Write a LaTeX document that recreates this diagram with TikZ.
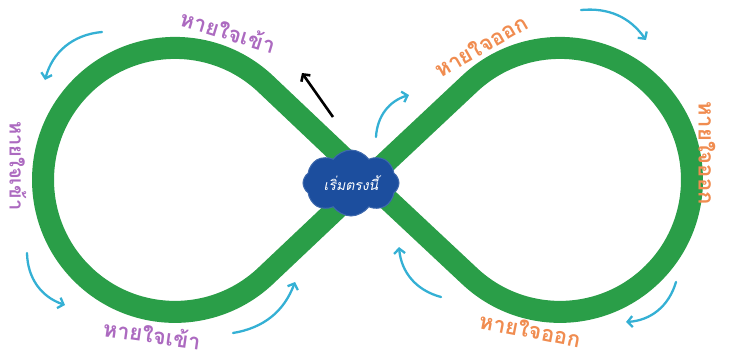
\documentclass[tikz,border=0pt]{standalone}
\usepackage{fontspec}
\newfontfamily\thaifont[Script=Thai]{Loma}
\usetikzlibrary{arrows.meta,shapes.symbols}
\definecolor{loopgreen}{RGB}{42,158,72}
\definecolor{arrowcyan}{RGB}{52,176,212}
\definecolor{inpurple}{RGB}{172,106,192}
\definecolor{outorange}{RGB}{240,140,80}
\definecolor{cloudblue}{RGB}{28,78,158}
\begin{document}
\begin{tikzpicture}[x=1pt,y=1pt,
  loopline/.style={draw=loopgreen, line width=22pt, line join=round},
  flowarrow/.style={draw=arrowcyan, line width=2.3pt, line cap=round, -{Straight Barb[length=5pt,width=11pt]}},
  breathin/.style={text=inpurple, font=\thaifont\bfseries\fontsize{22}{22}\selectfont, inner sep=0pt},
  breathout/.style={text=outorange, font=\thaifont\bfseries\fontsize{22}{22}\selectfont, inner sep=0pt},
  startcloud/.style={cloud, cloud puffs=8, cloud puff arc=110, aspect=1.45, fill=cloudblue, draw=cloudblue!85!white, line width=1pt, minimum width=96pt, minimum height=66pt, inner sep=0pt, text=white, font=\thaifont\itshape\fontsize{14}{14}\selectfont}]
\useasboundingbox (0,0) rectangle (732,-359);
\coordinate (X) at (367,-180);
\coordinate (T1) at (265.7,-84);
\coordinate (T3) at (469.3,-84);
\draw[loopline] (X) -- (T1) arc[start angle=46.6,end angle=313.4,radius=132] -- (X) -- (T3) arc[start angle=133.4,end angle=-133.4,radius=132] -- cycle;
\node[startcloud] (start) at (351,-183) {เริ่มตรงนี้};
% cyan flow arrows
\coordinate (a1s) at (102,-32); \coordinate (a1e) at (45,-80);
\coordinate (a2s) at (581,-10); \coordinate (a2e) at (646,-40);
\coordinate (a3s) at (376,-137); \coordinate (a3e) at (409,-95);
\coordinate (a4s) at (27,-253); \coordinate (a4e) at (65,-305);
\coordinate (a5s) at (233,-333); \coordinate (a5e) at (295,-282);
\coordinate (a6s) at (441,-297); \coordinate (a6e) at (399,-247);
\coordinate (a7s) at (676,-282); \coordinate (a7e) at (626,-322);
\draw[flowarrow] (a1s) to[bend right=35] (a1e);
\draw[flowarrow] (a2s) to[bend left=30] (a2e);
\draw[flowarrow] (a3s) to[bend left=35] (a3e);
\draw[flowarrow] (a4s) to[bend right=35] (a4e);
\draw[flowarrow] (a5s) to[bend right=30] (a5e);
\draw[flowarrow] (a6s) to[bend left=35] (a6e);
\draw[flowarrow] (a7s) to[bend left=35] (a7e);
% black start arrow
\coordinate (bs) at (333,-117); \coordinate (be) at (302,-73);
\draw[line width=2.6pt, -{Straight Barb[length=5pt,width=11pt]}] (bs) -- (be);
% labels
\node[breathin, rotate=-17] (in1) at (228,-31) {หายใจเข้า};
\node[breathin, rotate=-90, font=\thaifont\bfseries\fontsize{20}{20}\selectfont] (in2) at (18,-166) {หายใจเข้า};
\node[breathin, rotate=-8] (in3) at (152,-334) {หายใจเข้า};
\node[breathout, rotate=30] (out1) at (481,-46) {หายใจออก};
\node[breathout, rotate=-90] (out2) at (707,-153) {หายใจออก};
\node[breathout, rotate=-11] (out3) at (530,-330) {หายใจออก};
\end{tikzpicture}
\end{document}
